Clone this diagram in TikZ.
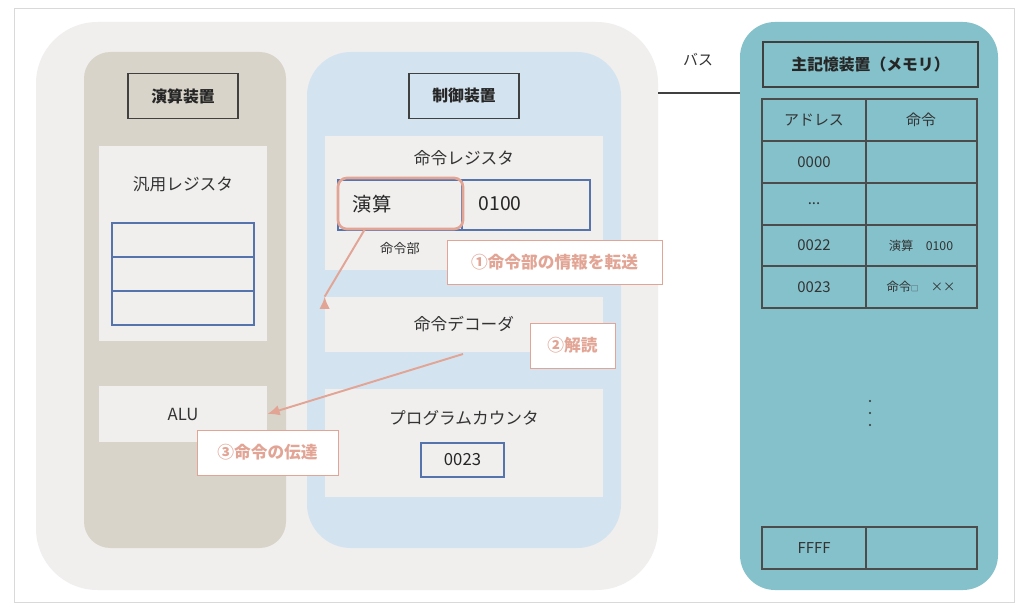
\documentclass[tikz,border=0pt]{standalone}
\usepackage{fontspec}
\setmainfont{Noto Sans CJK JP}
\begin{document}
\begin{tikzpicture}[x=0.02cm,y=-0.02cm,
 panel/.style={fill=pbg,draw=none},
 lbl/.style={draw=black!75,line width=0.6pt,font=\fontsize{9}{10}\selectfont\bfseries,text=black!85},
 blue/.style={draw=bl,line width=1pt},
 note/.style={draw=sal,fill=white,line width=0.5pt,text=sal,font=\fontsize{9.5}{11}\selectfont\bfseries},
 t/.style={text=black!80,font=\fontsize{8.5}{10}\selectfont},
 cell/.style={draw=black!70,line width=0.6pt},
 arr/.style={draw=sal,line width=1.1pt,-{Latex[length=7pt,width=6pt]}}]
\usetikzlibrary{arrows.meta}
\definecolor{pbg}{HTML}{F0EFEE}
\definecolor{bl}{HTML}{5574AE}
\definecolor{sal}{HTML}{E2A595}
\definecolor{tan}{HTML}{D9D4C9}
\definecolor{lb}{HTML}{D4E3F0}
\definecolor{mem}{HTML}{84C1CB}
\useasboundingbox (0,0) rectangle (1024,611);
\draw[black!15,fill=white] (14,8) rectangle (1014,602);
\fill[pbg,rounded corners=35] (36,22) rectangle (658,590);
% ALU column
\fill[tan,rounded corners=15] (84,52) rectangle (286,548);
\node[lbl,minimum width=110*0.02cm,minimum height=45*0.02cm] (alab) at (183,96) {演算装置};
\fill[pbg] (99,146) rectangle (267,341);
\node[t,font=\fontsize{9.5}{11}\selectfont] (gr) at (183,184) {汎用レジスタ};
\draw[blue] (112,223) rectangle (254,325);
\draw[blue] (112,257) -- (254,257) (112,291) -- (254,291);
\node[panel,minimum width=168*0.02cm,minimum height=56*0.02cm] (alu) at (183,414) {};
\node[t,font=\fontsize{9.5}{11}\selectfont] at (alu) {ALU};
% control column
\fill[lb,rounded corners=25] (307,52) rectangle (621,548);
\node[lbl,minimum width=110*0.02cm,minimum height=45*0.02cm] (clab) at (464,96) {制御装置};
\fill[pbg] (325,136) rectangle (603,270);
\node[t,font=\fontsize{9.5}{11}\selectfont] (ir) at (464,158) {命令レジスタ};
\draw[blue] (338,180) rectangle (590,230);
\draw[blue] (462,180) -- (462,230);
\draw[sal,line width=1.5pt,rounded corners=5] (338,178) rectangle (463,229);
\node[text=black!85,font=\fontsize{11}{12}\selectfont] (op) at (372,204) {演算};
\node[text=black!85,font=\fontsize{11}{12}\selectfont] (opd) at (500,204) {0100};
\coordinate (opb) at (365,229);
\node[panel,minimum width=278*0.02cm,minimum height=55*0.02cm] (dec) at (464,324.5) {};
\node[t,font=\fontsize{9.5}{11}\selectfont] at (dec) {命令デコーダ};
\draw[arr] (opb) -- (dec.west |- dec.north) ++(0,0);
\node[t,font=\fontsize{7.5}{9}\selectfont] at (400,248) {命令部};
\fill[pbg] (325,389) rectangle (603,497);
\node[t,font=\fontsize{9.5}{11}\selectfont] (pc) at (464,418) {プログラムカウンタ};
\node[blue,minimum width=83*0.02cm,minimum height=34*0.02cm,inner sep=0,text=black!85,font=\fontsize{9.5}{11}\selectfont] (pcv) at (462.5,460) {0023};
\coordinate (ds) at (463,354);
\draw[arr] (ds) -- (alu.east);
\node[note,minimum width=215*0.02cm,minimum height=44*0.02cm] (n1) at (554.5,262) {①命令部の情報を転送};
\node[note,minimum width=85*0.02cm,minimum height=45*0.02cm] (n2) at (572.5,345.5) {②解読};
\node[note,minimum width=141*0.02cm,minimum height=45*0.02cm] (n3) at (267.5,452.5) {③命令の伝達};
% memory
\fill[mem,rounded corners=20] (740,22) rectangle (998,590);
\node[lbl,minimum width=215*0.02cm,minimum height=45*0.02cm] (mlab) at (870.5,64.5) {主記憶装置（メモリ）};
\node[text=black!80,font=\fontsize{8.5}{10}\selectfont] (bus) at (698,60) {バス};
\draw[black!75,line width=1.5pt] (658,93) -- (740,93);
\foreach \a/\b in {99/141,141/183,183/225,225/266,266/308,527/569}{
 \draw[cell] (762,\a) rectangle (866,\b);
 \draw[cell] (866,\a) rectangle (977,\b);}
\node[t] at (814,120) {アドレス};
\node[t] at (921,120) {命令};
\node[t] at (814,162) {0000};
\node[t] at (814,204) {...};
\node[t] at (814,245.5) {0022};
\node[t,font=\fontsize{7}{8}\selectfont] at (921,245.5) {演算\quad 0100};
\node[t] at (814,287) {0023};
\node[t,font=\fontsize{7}{8}\selectfont] at (921,287) {命令\scalebox{0.6}{□}\quad ××};
\node[t] at (814,548) {FFFF};
\foreach \y in {401,413,425} \fill[black!80] (870,\y) circle (1.1);
\end{tikzpicture}
\end{document}
